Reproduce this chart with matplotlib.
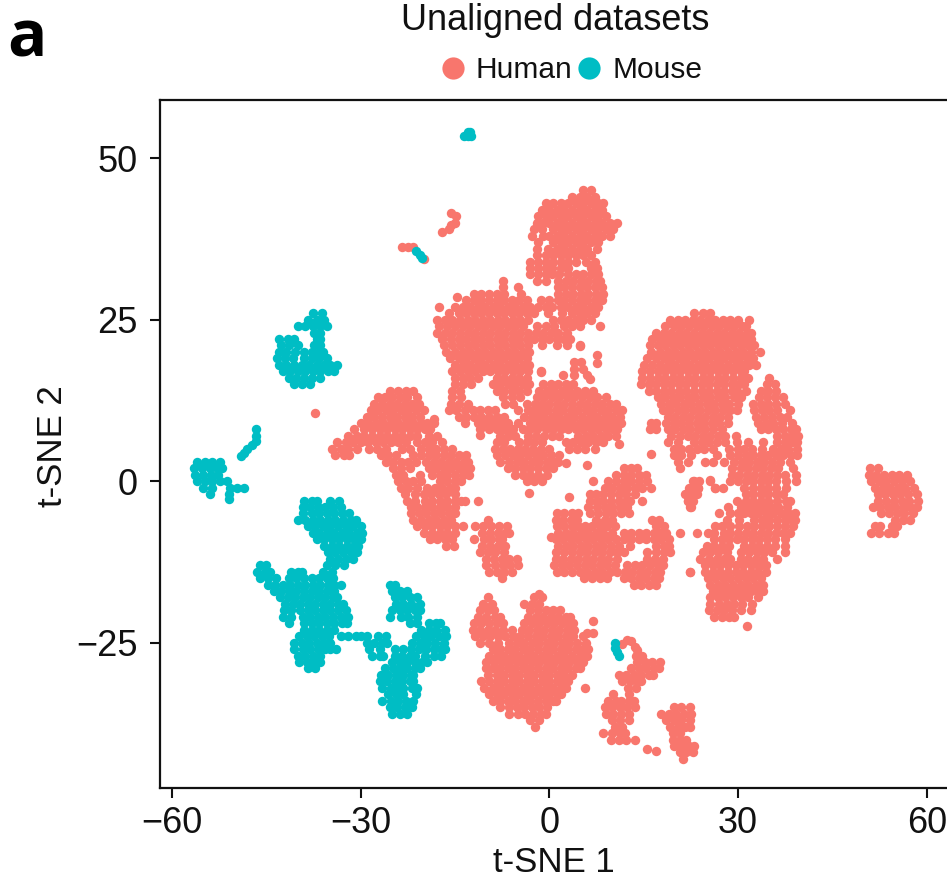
import matplotlib
matplotlib.use("Agg")
import matplotlib.pyplot as plt
from matplotlib.lines import Line2D

HUMAN_COLOR = "#F8766D"
MOUSE_COLOR = "#00BDC4"
x_ticks = [-60, -30, 0, 30, 60]
y_ticks = [-25, 0, 25, 50]
series_names = ["Human", "Mouse"]

# each row: (t-SNE 2, [t-SNE 1 values])
human_top = [
(45,[5.4,6.6]),(44,[3.6,4.8,6,7.2]),(43,[-.6,.6,1.8,3,4.2,5.4,6.6,7.8,8.6]),
(42,[-1.2,0,1.2,2.4,3.6,4.8,6,7.2,8.4]),(41,[-1.8,-.6,.6,1.8,3,4.2,5.4,6.6,7.8,9]),
(40,[-2,-1,0,1.2,2.4,3.6,4.8,6,7.2,8.4,9.6,10.8]),(39,[-2.4,-1.2,.6,1.8,3,4.2,5.4,6.6,7.8,9,10.2]),
(38,[-2.7,-1,0,1.2,2.4,3.6,4.8,6,7.2,8.4,9.6]),(37,[-1.8,.6,1.8,3,4.2,5.4,6.6,7.8]),
(36,[-1.9,-.2,1.2,2.4,3.6,4.8,6,7.6]),(35,[-2,-.6,.6,1.8,3,4.2,5.4,6.6]),
(34,[-3,-1.8,-.6,.6,1.8,3,4.2,5.8,7.3]),(33,[-3,-1.8,-.6,.5,1.8,3,6.6,7.6]),
(32,[-3,-1.8,-.6,.5,1.6,3,4.2,5.4,6.6,7.8]),(31,[-2,-.6,1.4,2.6,3.8,5,6.2,7.4,8]),
(30,[1.3,2.4,3.6,4.8,6,7.2,8.4]),(29,[1.4,2.6,3.8,5,6.2,7.4,8.6]),
(28,[1.4,2.4,3.6,4.8,6,7.2,8.4]),(27,[1.8,3,4.2,5.4,6.6,7.8]),(26,[2,3.6,4.8,6,7.2]),
(25,[3,4.2,5.4,6.6]),(24,[3.6,4.8,8.1]),
]
human_midleft = [
(31,[-7.3]),(30,[-7.3,-5]),(29,[-12,-10.8,-9.6,-8.4,-7.2,-4.5]),
(28.5,[-14.7]),(28,[-13.2,-12,-10.8,-9.6,-8.4,-7.2,-6,-4.8,-3.6,-1.4,0]),
(27,[-17.6,-15,-13.8,-12.6,-11.4,-10.2,-9,-7.8,-6.6,-5.4,-4.2,-3,-1.8,-.6,.5]),
(26,[-16,-14.4,-13.2,-12,-10.8,-9.6,-8.4,-7.2,-6,-4.8,-3.6,-2.4,-.2]),
(25,[-17.8,-16.6,-15.4,-14.2,-13,-11.8,-10.6,-9.4,-8.2,-7,-5.8,-4.6,-3.4,.6,1.8]),
(24,[-17.5,-16.2,-15,-13.8,-12.6,-11.4,-10.2,-9,-7.8,-6.6,-5.4,-4.2,-2,-.6,.8,2.4]),
(23,[-17.8,-16.6,-15.4,-14.2,-13,-11.8,-10.6,-9.4,-8.2,-7,-5.8,-4.6,-3.4,-2.2,-1,.2,1.4,2.8]),
(22,[-17,-15.6,-14.4,-13.2,-12,-10.8,-9.6,-8.4,-7.2,-6,-4.8,-3.6,-2.4,-1.2,0,1.2,2.4,3.3]),
(21,[-16.7,-15.4,-14.2,-13,-11.8,-10.6,-9.4,-8.2,-7,-5.8,-4.6,-3.4,-1.2,1.2,2.8,4.8]),
(20,[-16.4,-15,-13.8,-12.6,-11.4,-10.2,-9,-7.8,-6.6,-5.4,-4.2,-3.2]),
(19,[-15.8,-14.4,-13.2,-12,-10.8,-9.6,-8.4,-7.2,-6,-4.8,-3.6]),
(18,[-15,-13.8,-12.6,-11.4,-10.2,-9,-7.8,-6.6,-5.4,-4.2,-3.3]),
(17,[-15.4,-14.2,-13,-11.8,-10.6,-9.4,-8.2,-7,-5.8,-4.6,-3.4,-1.4]),
(16,[-15,-13.8,-12.6,-11.4,-8.4,-7.2,-6,-4.8,-3.6]),
(15,[-15,-13.8,-12.4,-9,-7.8,-6.6,-5.4,-4.2,-3.3]),
(14,[-15.4,-14.2,-8.4,-7.2,-6,-4.8,-3.5]),(13,[-15.4,-14,-7.3,-6,-4.6]),
(12,[-15.6,-14.4,-13,-7,-5.8,-3.6]),(11,[-16,-14.8,-13.4,-12.2,-11,-9.8,-8.6,-5,-3.4]),
(10,[-14.4,-13.2,-12,-10.8,-9.6,-8.4,-7.2,-4,-2.8]),(9.6,[-18.4]),
(9,[-13.4,-11.4,-10.2,-9,-7.8,-6.6,-5,-3]),(8,[-11,-9.6,-8.4,-7.2,-5.8]),(7.1,[-11]),
]
human_center = [
(18.4,[3.9,5]),(19.5,[7.6]),(18.3,[7.6]),(17.4,[3.9,5.4]),(16.5,[2.2,4,6]),(16.9,[-1.4]),(20.9,[4.8]),(15.8,[6.5]),
(15,[-1,.2,1.4,2.6,3.8]),(14,[-1.6,-.4,.8,2,3.2,4.4,5.6,7]),
(13,[-2,-.8,.4,1.6,2.8,4,5.2,6.4,7.6,9]),(12,[-2.3,-1.2,0,1.2,2.4,3.6,4.8,6,7.2,8.4,9.6,10.6]),
(11,[-2.5,-1.4,-.2,1,2.2,3.4,4.6,5.8,7,8.2,9.4,10.6,11.6]),(10,[-2,-.8,.4,1.6,2.8,4,5.2,6.4,7.6,8.8,10,11.2]),
(9,[-2.5,-1.2,0,1.2,2.4,3.6,4.8,6,7.2,8.4,9.6,10.8,11.4]),(8,[-2,-.6,.6,1.8,3,4.2,5.4,6.6,7.8,9,10.2,10.8]),
(7,[-.8,.4,1.6,4.6,5.8,7,8.2,9.4,10.6]),(6,[2.6,3.8,5,6.2,7.4,8.6]),(5.7,[11]),(5,[3.2,4.4,5.6,7.2]),
(2.8,[2.7]),(2.5,[6]),(-1.9,[-3.3]),
]
human_lowlobe = [
(8,[-7.5,-6.4,-4.2,-3]),(7,[-7.8,-6.6,-5.4,-3.4,-2.2]),(6,[-8.3,-7.2,-4.8,-3.6,-2.4,-1.2]),
(5,[-8.6,-7.4,-6.2,-5,-3.8,-2.6,-1.4,0]),(4,[-8.3,-7,-5.8,-4.6,-3.4,-2.2,-1,.2,1.6]),
(3,[-7.8,-6.4,-5.2,-4,-2.8,-1.6,-.4,.8,1.4]),(2,[-6.5,-5.4,-4.2,-3,-1.8,-.6,.6]),
(1,[-5.4,-4.2,-3,-1.8,-.4]),(0,[-3.6,-2.4,-1.2]),
]
human_left = [
(14,[-25.3,-24,-22.8,-21.6]),(13,[-27.3,-26.2,-25,-23.8,-22.6,-21]),(12,[-27.8,-26.6,-25.4,-24.2,-23,-21.8,-20.8]),
(11,[-28.4,-27.2,-26,-24.8,-23.6,-22.4,-21.2,-20]),(10,[-29,-27.8,-26.6,-25.4,-24.2,-23,-21.8,-20.6]),
(9,[-30,-28.8,-27.6,-26.4,-25.2,-24,-22.8,-21.6,-20.4,-19.4,-18.4]),
(8,[-31,-29.4,-28.2,-27,-25.8,-24.6,-23.4,-22.2,-21,-19.8,-19]),
(7,[-32,-30.6,-29.4,-28.2,-27,-25.8,-24.6,-23.4,-22.2,-21,-19.2,-17.8]),
(6,[-33.7,-32.4,-31.2,-30,-28.8,-27.6,-26.4,-25.2,-24,-22.8,-21,-19.8,-18.6,-17]),
(5,[-34.5,-33.2,-32,-30.6,-28.6,-27.4,-26,-23.4,-22.2,-20.4,-19.2,-18,-16.8,-15.4]),
(4,[-34,-32.6,-31.8,-26.8,-25.6,-24.4,-21.6,-20.4,-19.2,-18,-16.8,-15.6,-14.4,-13.2]),
(3,[-26,-24.8,-23.6,-22.4,-21.2,-19.6,-18.4,-17.2,-16,-14.8,-13.6,-13]),
(2,[-24.8,-23.6,-22.2,-19.2,-18,-16.8,-15.6,-14.4,-13.2,-12.6]),
(1,[-24.4,-23.2,-20.6,-18.6,-17.4,-16.2,-15,-13.8,-12.8]),
(0,[-24,-22.8,-21.6,-20.4,-17.4,-16.2,-15,-14]),
(-1,[-23.6,-22.4,-21,-19.4,-18.2,-17,-15.8,-15]),(-2,[-23,-21.4,-20,-18.8,-17.6,-16.4,-15]),
(-3,[-22.6,-21.4,-19.8,-18.6,-17.4,-16.2,-15,-14,-13.4,-11.4]),(-4,[-22,-21,-19.8,-18.6,-17.4,-16.2,-15]),
(-5,[-22,-20.8,-19.6,-18.4,-17.2,-16,-15]),(-6,[-21.6,-20.4,-19.2,-18,-16.8,-15.6]),
(-7,[-21,-19.8,-18.6,-17.4,-16.2,-15,-13.8,-11.8]),(-8,[-20,-18.6,-17.4,-16.2,-15]),
(-9,[-19,-17.8,-16.6,-15.4]),(-10,[-16.4,-15.2]),
]
human_small = [
(41.5,[-15.6]),(41,[-14.8]),(40,[-15]),(39.6,[-15.6]),(39,[-16]),(38.5,[-17]),(36.2,[-23.5,-22.5,-21.7]),(34.4,[-20]),
(10.6,[-37.2]),
(-6,[-9.7]),(-7,[-10.5,-9.2,-8,-6.8]),(-8,[-10.7,-9.4,-8.2,-7,-6.4]),(-9,[-12,-10.4,-9.2,-8,-7.5]),
(-10,[-10.7,-9.4,-8.2,-7]),(-11,[-11,-9.8,-8.6,-7.2]),(-12,[-10,-8.8,-7.6,-6.4,-5.2]),
(-13,[-10,-8.6,-7.4,-6.2,-5]),(-14,[-9.6,-8.4,-7.2,-6]),(-15,[-7.5]),
]
human_bottom = [
(-17.5,[-1.7]),(-18,[-9.7,-2.5,-1.2]),(-19,[-10.5,-9.1,-4,-2.8,-1.6]),
(-20,[-11,-9.8,-8.8,-3,-1.8,-.6,.6,1.7]),(-21,[-11.3,-10,-8.6,-7.8,-3.4,-2.2,-1,.2,1.4,2.6,3.3]),
(-21.7,[7]),(-22,[-12,-10.8,-9.6,-8.4,-7.3,-4,-2.8,-1.6,-.4,.8,2,3.2,3.8]),
(-23,[-12.2,-11,-9.8,-8.6,-7.4,-6,-4.4,-3.2,-2,-.8,.4,1.6,2.8,4]),(-23.5,[6,7]),
(-24,[-11.8,-10.6,-9.4,-8.2,-7,-5.8,-4.6,-3.4,-2.2,-1,.2,1.4,2.6,3.8,5.4]),
(-25,[-11,-9.6,-8.2,-6.4,-5.2,-4,-2.8,-1.6,-.4,.8,2,3.2,4.4,5.8]),
(-26,[-9,-7.8,-6.6,-5.4,-4.2,-3,-1.8,-.6,.6,1.8,3,4.2,5.4,6.2]),
(-27,[-9.6,-8.4,-7.2,-6,-4.8,-3.6,-2.4,-1.2,0,1.2,2.4,3.6,4.8,6]),
(-28,[-10,-8.8,-7.6,-6.4,-5.2,-4,-2.8,-1.6,-.4,.8,2,3.2,4.4,5.4]),
(-29,[-10,-9,-7.8,-6.6,-5.4,-4.2,-3,-1.8,-.6,.6,1.8,3,4.2,4.9]),
(-30,[-9.8,-8.4,-7.2,-6,-4.8,-3.6,-2.4,-1.2,0,1.2,2.4,3.6]),
(-31,[-10.8,-9.6,-8.4,-7.2,-6,-4.8,-3.6,-2.4,-1.2,0,1.2,2.4,3]),
(-32,[-10.4,-9,-7.8,-6.6,-5.4,-4.2,-3,-1.8,-.6,.6,1.8,2.6,5.6]),
(-33,[-9.6,-8.4,-7.2,-6,-4.8,-3.6,-2.4,-1.2,0,1.2,1.9]),
(-34,[-9,-7.8,-6.6,-5.4,-4.2,-3,-1.8,-.6,.6,1]),(-35,[-7.8,-6.4,-5.2,-4,-2.8,-1.6,-.4]),
(-36,[-6.4,-5,-3.8,-2.6,-1.4,-.6]),(-37,[-3,-1.6]),(-38,[-2.3]),
]
human_lowright = [
(-24.6,[12.3]),(-24.8,[13]),(-25.2,[11.6]),(-25.6,[13.6]),(-26.2,[14]),
(-27,[13.8,14.8]),(-28,[14,15.2,16.4,17.6]),(-29,[13,14.2,15.4,16.6,17.5]),(-30,[11,12.2,13.4,14.6,15.8,16.5]),
(-31,[11.6,12.8,14,14.6]),(-32,[12.5,13.8]),(-33,[10.2,12.6]),(-34,[9.4,10.6,11.4,12.6,13.4]),
(-35,[8.8,10,11.2,12.4,13.6,19.8,21,22.4]),(-36,[9,10.2,11.4,12.6,17.8,19,20.2,21.4,22.6]),
(-37,[10,11.2,12.6,18.6,19.8,21,22.4]),(-38,[10.4,11.6,19.2,20.4,21.6,22.4]),(-39,[8.6,10,11.2,12,19.6,20.8]),
(-40,[9.8,11,12.2,13.6,19.6,20.8,21.8]),(-41,[19.8,21,22.2,23]),(-41.5,[15.6]),(-41.8,[17]),(-42,[20.8,21.8,22.8]),(-43,[21.2]),
]
human_lowcenter = [
(2,[11.8,13,14]),(1,[10.6,11.8,13,14.2,15.3]),(0,[7,9.4,10.6,11.8,13,14.2,15.5]),
(-1,[8.8,10,11.2,12.4,13.6,14.8,16.2]),(-2,[6.4,7.4,8.6,9.8,11,12.2,13.6]),(-2.5,[3.1]),
(-3,[6.4,7.6,8.6,9.8,11,12.2,12.9,14.7]),(-4,[6.2,7.6,8.8,10,11.2,12.4]),
(-5,[1.2,2.4,3.6,4.6,6.4,7.8,9,10.2,11.4,12.6]),(-6,[1,2.2,3.4,4.4,7.4,8.8,10,16.4,17.4]),
(-7,[1.2,2.4,3.6,4.6,5.6,6.8,8,9.2,10.4,17,18.2]),(-8,[1.4,2.6,3.8,5,6.2,7.4,8.6,10,11.8,13,14.2,15.4,16.6,17.6,18.6,20.8,23.5]),
(-8.7,[.2]),(-9,[1,2.2,3.4,4.6,5.8,7,8.2,9.4,10.6,11.8,13,14.2,15.4,16.6,17.8,19]),
(-10,[1.4,2.6,3.8,5,6.2,7.4,8.6,9.8,11,12.8,17,18.2,19]),(-11,[1,2.4,3.6,4.8,6,7.2,8.4,9.6,10.8,11.8,15.6,17,18.2,19.2]),
(-12,[1,2.2,3.4,4.6,5.8,7,8.2,9.4,10.8,15.6,16.8,18]),(-13,[.8,2,3.2,4.4,5.6,6.8,8,9.2,10.4,12.4,13.6,14.8,16,17.2,18]),
(-14,[1.2,2.4,3.6,4.8,6,7.2,8.4,9.6,10.8,12,13.2,14.4,15.6,16.8,17.6,22.4]),
(-15,[5.5,6.8,8,9.2,11.8,13,14.2,15.4,16.6,17.4]),(-16,[13.4,14.6,15.8,17]),
(0,[23.8,23]),(-1,[22.8,23.6,26.4]),(.2,[25.6]),(-2,[22.5,23.4]),(-3,[22,22.8]),(-4,[22.4]),
]
human_right = [
(26,[23,24.4,25.6]),(25,[19.2,20.4,21.6,22.8,24,25.2,26.4,27.6,28.8,30,31.7]),
(24,[18.4,19.8,21,22.2,23.4,24.6,25.8,27,28.2,29.4,30.6,31.2]),
(23,[17,18.2,19.4,20.6,21.8,23,24.2,25.4,26.6,27.8,29,30.2,31.4,32]),
(22,[16.3,17.6,18.8,20,21.2,22.4,23.6,24.8,26,27.2,28.4,29.6,30.8,32]),
(21,[16,17.2,18.4,19.6,20.8,22,23.2,24.4,25.6,26.8,28,29.2,30.4,31.6,32.5]),
(20,[16.2,17.6,18.8,20,21.2,22.4,23.6,24.8,26,27.2,28.4,29.6,30.8,32,33.5]),
(19,[15.6,17,18.2,19.4,20.6,21.8,23,24.2,25.4,26.6,27.8,29,30.2,31.4,32.4]),
(18,[15,16.4,17.6,18.8,20,21.2,22.4,23.6,24.8,26,27.2,28.4,29.6,30.8,31.7,32.8]),
(17,[14.8,16,17.2,18.4,19.6,20.8,22,23.2,24.4,25.6,26.8,28,29.2,30.4,31]),
(16,[14.7,16,17.2,18.4,19.6,20.8,22,23.2,24.4,25.6,26.8,28,29.2,30.4,31.6,35]),
(15,[14.6,15.8,17,18.2,19.4,20.6,21.8,23,24.2,25.4,26.6,27.8,29,30.2,31,34.6,35.8]),
(14,[15.8,17,18.2,19.4,20.6,21.8,23,24.2,25.4,26.6,27.8,29,29.8,31.2,33.6,34.8,36]),
(13,[17.2,18.4,19.6,20.8,22,23.2,24.4,25.6,26.8,28,29.4,30.4,33.4,34.6,35.8,37.2]),
(12,[17.8,19,20.2,21.4,22.6,23.8,25,26.2,27.4,28.6,30,32.4,33.6,34.8,36,37.4]),
(11,[18,19.2,20.4,21.6,22.8,24,25.2,26.4,27.6,28.8,29.8,32.6,33.8,35,36.2,38.2]),
(10,[18.8,20,21.2,22.4,23.6,24.8,26,27.2,28.4,32.9,34.2,35.4,36.6,37.8]),
(9,[16.2,17,18.6,19.8,21,22.2,23.4,24.6,25.8,27,28.4,33.2,34.4,35.6,37,38.6]),
(8,[16,17,18.8,20,21.2,22.4,23.6,24.8,26,27.4,33.6,34.8,36,37.2,38.4,39.2]),
(7,[19.4,20.8,22,23.2,24.4,25.6,26.8,28,29.6,36.2,37.4,38.6,39.6]),
(6,[18.8,20.4,23,24.2,25.4,26.6,28,29.8,31.6,34,36.2,37.4,38.6,39.4]),
(5,[19.8,21,22.2,23.4,24.6,26,28.6,30,31,32.2,33.8,35.6,36.8,38,39.4]),
(4.2,[16.2]),(4,[19.8,21,22.6,26.6,28.8,30,31.2,32.4,33.6,34.8,36,37.2,38.4,39.4]),
(3,[20.4,22,24.8,26,27.8,29.4,30.6,31.8,33,34.2,35.4,36.6,38.2]),
(2,[20.8,29,30.4,31.6,32.8,34,35.2,36.4,38.8]),(1,[29,30.2,31.4,32.6,33.8,35,36.2,37.4,39.2]),
(0,[22.8,25.6,28.8,30,31.2,32.4,33.6,34.8,36,37.6,39.2]),(-1,[22.2,23.6,26.4,27.6,31,32.4,33.6,34.8,36,37.6]),
(-2,[21.6,23,31.2,32.4,33.6,34.8,36,37.2]),(-3,[22,29.8,31.2,32.4,33.6,34.8,36.2,37.6,38.2]),
(-4,[22.6,28.4,30.4,31.6,32.8,34,35.2,36.4,37.8]),(-5,[27,28.8,30,31,32,33.2,34.4,35.6,36.8,38,39]),
(-6,[28.2,30.2,32.6,33.8,35,36.2,37.4,38.6,39]),(-7,[26.4,27.4,28.8,30.2,31.4,32.6,33.8,35,36.2,37.4,38.8]),
(-8,[25.2,26.2,27.8,28.8,30,31.2,32.4,33.6,34.8,36,37.2,38.2]),(-9,[26.2,27.4,28.6,29.8,31,32.2,33.4,34.6,35.8,37.4]),
(-10,[25,26.2,27.4,28.6,31,32.2,33.4,34.6,35.8,37.4]),(-11,[24.4,25.6,26.8,28.2,30.4,31.8,33,34.2,35.4,37.4]),
(-12,[24,25.4,26.6,27.8,28.8,30.4,31.6,32.8,34,36.2]),(-13,[24.8,26,27.2,28.4,29.6,30.8,32,33.2,34.4,33.6]),
(-14,[22.4,24.8,26,27.2,28.4,29.6,30.8,32,33.2,34.4]),(-15,[25.2,26.4,27.6,28.8,30,31.2,32.4,33.6]),
(-16,[25.6,26.8,28,29.2,30.4,31.6,32.8,34]),(-17,[26,27.2,28.4,29.6,30.8,32,33.2,34]),
(-18,[25.6,26.8,28,29.2,30.4,31.6,33.2]),(-19,[25.6,27,28.2,29.4,30.6,32.2]),
(-20,[25.4,26.6,27.8,29,30.4,32]),(-21,[26.2,27.4,28.6,29.4]),(-22.5,[31.4]),
]
human_far = [
(2,[51,52.2]),(1,[50.8,52,53.2,54.4,55.6,56.8]),(0,[51.2,52.4,53.6,54.8,56,57.4]),
(-1,[51.8,53,54.2,55.4,56.6,58]),(-2,[52.2,53.4,54.6,55.8,57,58.4]),(-3,[52.2,53.6,54.8,56,57.2,58.6]),
(-4,[51.4,52.6,53.8,55,56.2,57.4,58.4]),(-5,[52.8,54,55.2,56.4,57.8]),(-6,[55,56.2,57.4]),
(-7,[51.8,52.6,54.4,55.3]),(-8,[51.2,52.4,53.8,54.8]),
]
mouse_top = [(54,[-13,-12.6]),(53.5,[-13.5,-13,-12.5]),(35.6,[-21.2]),(35,[-20.6]),(34.6,[-20.2])]
mouse_upper = [
(26,[-37.6,-36.2]),(25,[-38.4,-37,-35.8]),(24,[-40,-38.8,-37.6,-36.4,-35.4]),(23,[-37.4,-36.4]),
(22,[-43,-41.6,-40.6,-37,-36.4]),(21,[-42.6,-41.4,-40,-37.4,-36.4]),(20,[-43,-41.8,-40.4,-39,-37.8,-36.6,-36]),
(19,[-43.3,-42,-40.8,-39,-37.8,-36.6,-35.4]),(18,[-43,-41.8,-40.6,-39.4,-38.2,-37,-35.8,-34.8,-33.8]),
(17,[-42.4,-41.2,-40,-38.8,-37.6,-36.4,-35.2,-34.3]),(16,[-41.4,-40.2,-39,-37.8,-36.4]),(15,[-40.6,-39.4,-38]),
]
mouse_left = [
(8,[-46.6]),(7,[-46.6]),(6.2,[-46.7]),(5.6,[-47.3]),(5,[-48]),(4.4,[-48.6]),(3.9,[-49]),
(3,[-56,-54.8,-53.6,-52.4]),(2,[-56.5,-55.2,-54,-52.8,-52]),(1,[-56.4,-55,-53.8,-52.6]),
(0,[-56,-54.8,-53.6,-52.4,-51.2]),(-1,[-55,-53.6,-50.8,-49.6,-48.6]),(-2,[-53.9,-51]),(-2.7,[-51]),
]
mouse_main = [
(-3,[-39,-37.8,-37,-34.8,-33.4]),(-4,[-39.2,-38,-36.8,-35.6,-34.4,-33.2]),(-5,[-39.2,-37.8,-36.6,-35.4,-34.2,-33,-31.8]),
(-6,[-40,-38.8,-37.6,-36.4,-35.2,-34,-32.8,-31.6,-30.8]),(-7,[-38.4,-37.2,-36,-34.8,-33.6,-32.4,-31.2,-30]),
(-8,[-37.6,-36.6,-35.4,-34.2,-33,-31.8,-30.6,-29.8]),(-9,[-37,-35.8,-34.6,-33.4,-32.2,-31,-30]),
(-10,[-35.8,-34.6,-33.4,-32.2,-31,-30.4]),(-11,[-35.2,-34,-32.8,-31.6,-30.6]),(-12,[-34.8,-33.6,-32.4,-31.2]),
(-13,[-46,-45,-35.4,-34,-32.6]),(-14,[-46.4,-45.2,-44.4,-41,-40,-39.3,-36,-34.6]),
(-15,[-46,-44.8,-43.4,-41.4,-40.2,-39,-37.8,-36.6,-35.4,-34.4]),(-16,[-44.8,-43.6,-42.4,-41.2,-40,-38.8,-37.6,-36.4,-35.2,-34.3,-33.2]),
(-17,[-43.8,-42.6,-41.4,-40.2,-39,-37.8,-36.6,-35.4,-34.2]),(-18,[-42.8,-41.6,-40.4,-39.2,-38,-36.8,-35.6,-34.4,-33.8]),
(-19,[-42,-40.8,-39.6,-38.4,-37.2,-36,-34.8,-33.6,-32.8]),(-20,[-42.2,-41,-39.6,-38.4,-37.2,-36,-34.8,-33.6,-32.4]),
(-21,[-42.4,-41,-39.2,-38,-36.8,-35.6,-34.4,-33.2,-32]),(-22,[-41.4,-39,-37.8,-36.6,-35.4,-34.2,-33,-32.2]),
(-23,[-39,-37.8,-36.6,-35.4,-34.2]),(-24,[-39.8,-38.6,-37.4,-36.2,-35,-33.2,-32,-30.8,-30]),
(-25,[-40.6,-39.4,-38.2,-37,-35.8,-34.8]),(-26,[-40.6,-39.2,-38,-36.8,-35.6,-34.8,-33.9]),
(-27,[-40,-38.8,-37.6,-36.4]),(-28,[-39.8,-38.6,-37.4,-36.4]),(-29,[-38.4,-37.2]),
]
mouse_lower = [
(-16,[-25.3,-24.5]),(-17,[-25,-23.8,-22.6]),(-18,[-24.6,-23.4,-22.2,-21]),(-19,[-24.4,-23.2,-22,-20.6]),
(-20,[-25,-23.8,-22.6,-21.4,-20.6]),(-21,[-25.3,-23.6,-22.4,-21]),(-22,[-22.2,-21,-19.2,-18,-17.4]),
(-23,[-20.4,-19.2,-18,-16.6]),(-24,[-29,-27.2,-26,-21.2,-20,-18.8,-17.6,-16.4]),
(-25,[-29,-27.8,-26.6,-25.8,-21.8,-20.6,-19.4,-18.2,-16.8]),(-26,[-28.6,-27,-24.6,-23.2,-22,-20.8,-19.6,-18.4,-17.2,-16.6]),
(-27,[-28.2,-27,-26.4,-24.6,-23.4,-22.2,-21.4,-19.8,-18.4,-17.2]),(-28,[-25,-23.8,-22.6,-21.4,-20.2,-19.4]),
(-29,[-26.2,-24.8,-23.8,-22.6,-21.4,-20.6]),(-30,[-26.8,-25.6,-24.4,-23.2,-22,-21.6]),
(-31,[-27,-25.8,-24.6,-23.4,-22.2,-21.6]),(-32,[-26.6,-25.2,-24,-23.2,-21.8,-21]),(-33,[-25.6,-24.4,-23.2,-21.2]),
(-34,[-26.6,-25.2,-24,-22.8,-21.6]),(-35,[-25.4,-24.2,-23,-21.8]),(-36,[-25,-23.8,-22.6]),
(-25,[10.5]),(-25.8,[10.4]),(-26.5,[10.8]),(-27,[11]),
]

def expand(*groups):
    xs, ys = [], []
    for group in groups:
        for y, row in group:
            xs.extend(row)
            ys.extend([y] * len(row))
    return xs, ys

plt.rcParams["font.family"] = ["Liberation Sans", "DejaVu Sans"]
W, H = 947, 880
TEXT = "#111111"
fig = plt.figure(figsize=(W / 100, H / 100), dpi=100)
ax = fig.add_axes([160 / W, 1 - 788 / H, 790 / W, 688 / H])
hx, hy = expand(human_top, human_midleft, human_center, human_lowlobe, human_left, human_small,
                human_bottom, human_lowright, human_lowcenter, human_right, human_far)
mx, my = expand(mouse_top, mouse_upper, mouse_left, mouse_main, mouse_lower)
ax.scatter(hx, hy, s=46, color=HUMAN_COLOR, linewidths=0)
ax.scatter(mx, my, s=46, color=MOUSE_COLOR, linewidths=0)
ax.set_xlim(-61.9, 63.7)
ax.set_ylim(-47.5, 59)
ax.set_xticks(x_ticks)
ax.set_yticks(y_ticks)
ax.set_xticklabels(["\u2212" + str(-t) if t < 0 else str(t) for t in x_ticks])
ax.set_yticklabels(["\u2212" + str(-t) if t < 0 else str(t) for t in y_ticks])
ax.tick_params(length=7, width=1.5, labelsize=26, color=TEXT, labelcolor=TEXT)
ax.tick_params(axis="x", pad=6)
ax.tick_params(axis="y", pad=9)
for s in ax.spines.values():
    s.set_linewidth(1.6)
    s.set_color("#111111")
ax.set_xlabel("t-SNE 1", fontsize=25, color=TEXT)
ax.xaxis.set_label_coords((554 - 160) / 790, -(862 - 788) / 688, transform=ax.transAxes)
ax.xaxis.label.set_va("center")
ax.set_ylabel("t-SNE 2", fontsize=25, color=TEXT)
ax.yaxis.set_label_coords(-(160 - 52) / 790, (788 - 446) / 688, transform=ax.transAxes)
ax.yaxis.label.set_va("center")

fig.text(555 / W, 1 - 21 / H, "Unaligned datasets", fontsize=26, ha="center", va="center", color=TEXT)
fig.text(27 / W, 1 - 40 / H, "a", fontsize=47, fontweight="bold", family="Open Sans", ha="center", va="center", color="black")
handles = [Line2D([], [], ls="", marker="o", ms=16, mec="none", color=c) for c in (HUMAN_COLOR, MOUSE_COLOR)]
fig.legend(handles, series_names, loc="center", bbox_to_anchor=(570 / W, 1 - 70 / H), ncols=2, frameon=False,
           fontsize=21.5, handletextpad=0.27, columnspacing=0.07, handlelength=1.0, borderpad=0, labelcolor=TEXT)
fig.savefig("out.png", dpi=100)
